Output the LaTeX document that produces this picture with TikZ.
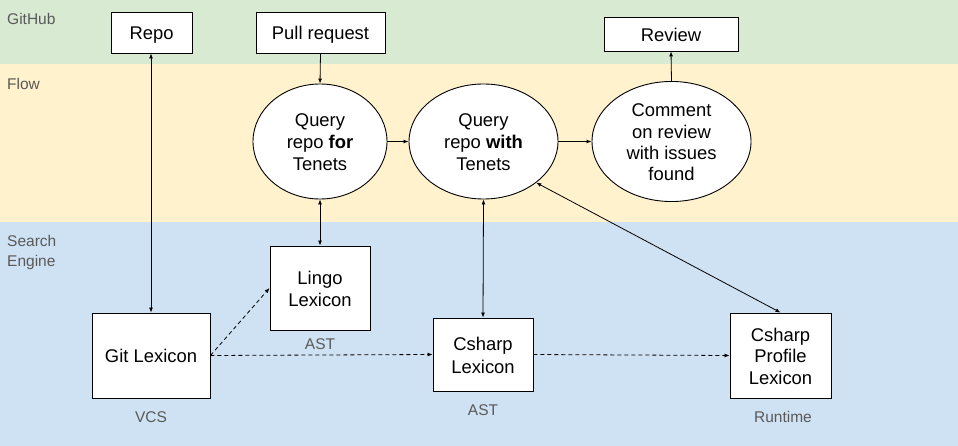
\documentclass[tikz,border=0pt]{standalone}
\usepackage{fontspec}
\setmainfont{Liberation Sans}
\usetikzlibrary{shapes.geometric,arrows.meta}
\definecolor{ghgreen}{HTML}{D9EAD3}
\definecolor{flowyellow}{HTML}{FFF2CC}
\definecolor{seblue}{HTML}{CFE2F3}
\definecolor{lblgray}{HTML}{595959}
\newcommand\ls{\rule[-3pt]{0pt}{20.7pt}}
\begin{document}
\begin{tikzpicture}[x=1pt,y=-1pt,
  boxtext/.style={font=\fontsize{18.4pt}{21.4pt}\selectfont},
  box/.style={boxtext,draw=black,line width=0.9pt,fill=white,inner sep=0pt,align=center},
  oval/.style={boxtext,ellipse,draw=black,line width=0.9pt,fill=white,inner sep=0pt,align=center},
  lane/.style={anchor=west,text=lblgray,font=\fontsize{15.5pt}{19.5pt}\selectfont,align=left,inner sep=0pt},
  tag/.style={text=lblgray,font=\fontsize{15.5pt}{19pt}\selectfont,inner sep=0pt},
  arr/.style={line width=0.8pt,-{Latex[length=5pt,width=4pt]}},
  twoway/.style={line width=0.8pt,{Latex[length=5pt,width=4pt]}-{Latex[length=5pt,width=4pt]}},
  dasharr/.style={arr,dash pattern=on 4pt off 3pt}]
\useasboundingbox (0,0) rectangle (958,446);
% bands
\fill[ghgreen] (0,0) rectangle (958,64);
\fill[flowyellow] (0,64) rectangle (958,222);
\fill[seblue] (0,222) rectangle (958,446);
% lane labels
\node[lane] (lgh) at (7,18.5) {GitHub};
\node[lane] (lfl) at (7,83.5) {Flow};
\node[lane] (lse) at (7,252.5) {Search\\Engine};
% GitHub boxes
\node[box,minimum width=81pt,minimum height=41pt] (repo) at (151.5,32.5) {\ls Repo};
\node[box,minimum width=129pt,minimum height=41pt] (pr) at (320.5,32.5) {\ls Pull request};
\node[box,minimum width=134pt,minimum height=34pt] (review) at (671,34) {\ls Review};
% Flow ellipses
\node[oval,minimum width=134pt,minimum height=115pt] (q1) at (320,141.5) {\ls Query\\repo \textbf{for}\\Tenets\ls};
\node[oval,minimum width=149pt,minimum height=115pt] (q2) at (483.5,141.5) {\ls Query\\repo \textbf{with}\\Tenets\ls};
\node[oval,minimum width=159pt,minimum height=115pt] (cm) at (671.5,141.5) {\ls Comment\\on review\\with issues\\found\ls};
% Search engine boxes
\node[box,minimum width=118pt,minimum height=85pt] (git) at (151,355.5) {\ls Git Lexicon};
\node[box,minimum width=100pt,minimum height=84pt] (lingo) at (320,288) {\ls Lingo\\Lexicon\ls};
\node[box,minimum width=100pt,minimum height=73pt] (cs) at (483,354.5) {\ls Csharp\\Lexicon\ls};
\node[box,minimum width=101pt,minimum height=85pt] (prof) at (780.5,355.5) {\ls Csharp\\Profile\\Lexicon\ls};
% tags
\node[tag] (tlingo) at (320,344) {AST};
\node[tag] (tgit) at (151,417) {VCS};
\node[tag] (tcs) at (483,410) {AST};
\node[tag] (tprof) at (783,417) {Runtime};
% connectors
\draw[twoway] (repo.south -| git.north) -- (git.north);
\draw[arr] (pr.south) -- (q1.north);
\draw[twoway] (q1.south) -- (lingo.north);
\draw[arr] (q1.east) -- (q2.west);
\draw[arr] (q2.east) -- (cm.west);
\draw[arr] (cm.north) -- (review.south);
\draw[twoway] (q2.south) -- (cs.north);
\draw[twoway] (q2.-38) -- (prof.north);
\draw[dasharr] (git.east) -- (lingo.west);
\draw[dasharr] (git.east) -- (cs.west);
\draw[dasharr] (cs.east) -- (prof.west);
\end{tikzpicture}
\end{document}
